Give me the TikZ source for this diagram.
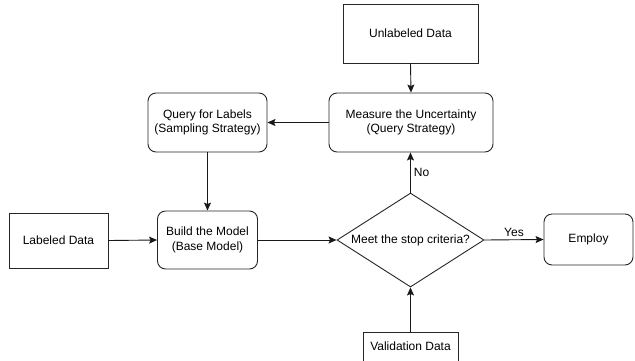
\documentclass[tikz,border=0pt]{standalone}
\usepackage{fontspec}
\setmainfont{Liberation Sans}
\usetikzlibrary{shapes.geometric,arrows.meta}
\begin{document}
\begin{tikzpicture}[x=1pt,y=-1pt,
  font=\fontsize{12}{14.5}\selectfont,
  box/.style={draw=black!85, line width=0.9pt, align=center, inner sep=0pt},
  rbox/.style={box, rounded corners=8pt},
  conn/.style={draw=black!90, line width=0.9pt, -{Stealth[length=8pt,width=7pt,inset=1.5pt]}},
  lbl/.style={inner sep=0pt, font=\fontsize{12}{14}\selectfont}]
\useasboundingbox (0,0) rectangle (635,360);
\clip (0,0) rectangle (635,360);
\node[box, minimum width=135pt, minimum height=59pt] (unl) at (410.5,33.5) {Unlabeled Data};
\node[rbox, minimum width=164pt, minimum height=59pt] (mea) at (411,122.5) {Measure the Uncertainty\\(Query Strategy)};
\node[rbox, minimum width=119pt, minimum height=59pt] (qry) at (207.5,122.5) {Query for Labels\\(Sampling Strategy)};
\node[box, minimum width=99pt, minimum height=55pt] (lab) at (58.5,240.5) {Labeled Data};
\node[rbox, minimum width=100pt, minimum height=58pt] (bld) at (207.5,240) {Build the Model\\(Base Model)};
\node[draw=black!85, line width=0.9pt, diamond, minimum width=147pt, minimum height=94pt, inner sep=0pt] (dia) at (410.5,240) {};
\node[inner sep=0pt] (diat) at (dia.center) {Meet the stop criteria?};
\node[rbox, minimum width=89pt, minimum height=51pt] (emp) at (588.5,239.5) {Employ};
\node[box, minimum width=95pt, minimum height=31pt] (val) at (410.5,347.5) {};
\node[inner sep=0pt] (valt) at (410.5,346) {Validation Data};
\draw[conn] (unl.south) -- (mea.north);
\draw[conn] (mea.west) -- (qry.east);
\draw[conn] (qry.south) -- (bld.north);
\draw[conn] (lab.east) -- (bld.west);
\draw[conn] (bld.east) -- (dia.west);
\draw[conn] (dia.north) -- node[lbl, right=3pt, pos=0.5] (no) {No} (mea.south -| dia.north);
\draw[conn] (dia.east) -- node[lbl, above=3pt] (yes) {Yes} (emp.west);
\draw[conn] (val.north) -- (dia.south);
\end{tikzpicture}
\end{document}
